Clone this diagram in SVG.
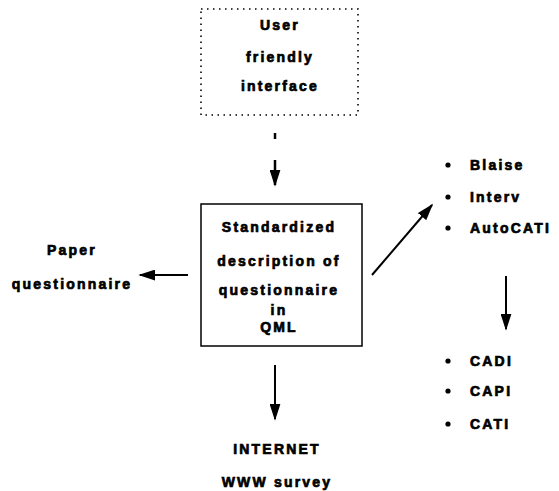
<svg xmlns="http://www.w3.org/2000/svg" width="559" height="491" viewBox="0 0 559 491">
<style>
text{font-family:"Liberation Sans",Arial,sans-serif;font-weight:bold;font-size:14px;letter-spacing:2.2px;fill:#000;stroke:#000;stroke-width:0.7px}
.c{text-anchor:middle}
.ln{stroke:#000;stroke-width:2;fill:none}
</style>
<defs>
<marker id="ahb" viewBox="0 0 10 10" refX="9" refY="5" markerWidth="17" markerHeight="11" markerUnits="userSpaceOnUse" orient="auto" preserveAspectRatio="none">
<path d="M0,0 L10,5 L0,10 z" fill="#000"/>
</marker>
</defs>
<g id="ui">
<rect x="201" y="9" width="157" height="106" fill="none" stroke="#000" stroke-width="1.6" stroke-dasharray="1.5 4.5"/>
<text class="c" x="280" y="30">User</text>
<text class="c" x="280" y="62">friendly</text>
<text class="c" x="280" y="91">interface</text>
</g>
<g id="qml">
<rect x="201" y="204" width="161" height="142" fill="none" stroke="#000" stroke-width="1.5"/>
<text class="c" x="279" y="232">Standardized</text>
<text class="c" x="279" y="266">description of</text>
<text class="c" x="279" y="295">questionnaire</text>
<text class="c" x="279" y="315">in</text>
<text class="c" x="279" y="332">QML</text>
</g>
<g id="paper">
<text class="c" x="72" y="255">Paper</text>
<text class="c" x="72" y="289">questionnaire</text>
</g>
<g id="cai">
<circle cx="448" cy="165" r="2.6"/>
<circle cx="448" cy="197" r="2.6"/>
<circle cx="448" cy="228" r="2.6"/>
<text x="470" y="170">Blaise</text>
<text x="470" y="202">Interv</text>
<text x="470" y="233">AutoCATI</text>
</g>
<g id="modes">
<circle cx="448" cy="361" r="2.6"/>
<circle cx="448" cy="391" r="2.6"/>
<circle cx="448" cy="424" r="2.6"/>
<text x="470" y="366">CADI</text>
<text x="470" y="396">CAPI</text>
<text x="470" y="429">CATI</text>
</g>
<g id="www">
<text class="c" x="277" y="454">INTERNET</text>
<text class="c" x="277" y="487">WWW survey</text>
</g>
<g id="connectors">
<line x1="275" y1="133" x2="275" y2="139" stroke="#000" stroke-width="2.5"/>
<line x1="275" y1="160" x2="275" y2="185" stroke="#000" stroke-width="2.5" marker-end="url(#ahb)"/>
<line class="ln" x1="188" y1="275" x2="140" y2="275" marker-end="url(#ahb)"/>
<line class="ln" x1="372" y1="275" x2="432" y2="205" marker-end="url(#ahb)"/>
<line class="ln" x1="506" y1="276" x2="506" y2="329" marker-end="url(#ahb)"/>
<line class="ln" x1="275" y1="365" x2="275" y2="419" marker-end="url(#ahb)"/>
</g>
</svg>
